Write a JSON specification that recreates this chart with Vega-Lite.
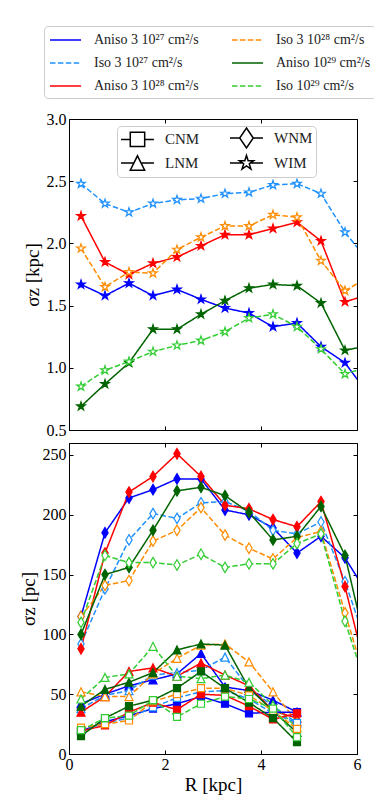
{
"$schema": "https://vega.github.io/schema/vega-lite/v6.json",
"padding": {"left": 18, "top": 25, "right": 0, "bottom": 5},
"spacing": 3,
"datasets": {
"phases": [{"ph":"CNM"},{"ph":"LNM"},{"ph":"WNM"},{"ph":"WIM"}],
"top": [
{"R":0.25,"s":1.67,"run":"A27","ph":"WIM"},{"R":0.75,"s":1.58,"run":"A27","ph":"WIM"},{"R":1.25,"s":1.68,"run":"A27","ph":"WIM"},{"R":1.75,"s":1.58,"run":"A27","ph":"WIM"},{"R":2.25,"s":1.63,"run":"A27","ph":"WIM"},{"R":2.75,"s":1.55,"run":"A27","ph":"WIM"},{"R":3.25,"s":1.48,"run":"A27","ph":"WIM"},{"R":3.75,"s":1.44,"run":"A27","ph":"WIM"},{"R":4.25,"s":1.33,"run":"A27","ph":"WIM"},{"R":4.75,"s":1.36,"run":"A27","ph":"WIM"},{"R":5.25,"s":1.17,"run":"A27","ph":"WIM"},{"R":5.75,"s":1.04,"run":"A27","ph":"WIM"},{"R":6.25,"s":0.78,"run":"A27","ph":"WIM"},
{"R":0.25,"s":2.48,"run":"I27","ph":"WIM"},{"R":0.75,"s":2.32,"run":"I27","ph":"WIM"},{"R":1.25,"s":2.25,"run":"I27","ph":"WIM"},{"R":1.75,"s":2.32,"run":"I27","ph":"WIM"},{"R":2.25,"s":2.35,"run":"I27","ph":"WIM"},{"R":2.75,"s":2.36,"run":"I27","ph":"WIM"},{"R":3.25,"s":2.40,"run":"I27","ph":"WIM"},{"R":3.75,"s":2.41,"run":"I27","ph":"WIM"},{"R":4.25,"s":2.47,"run":"I27","ph":"WIM"},{"R":4.75,"s":2.48,"run":"I27","ph":"WIM"},{"R":5.25,"s":2.40,"run":"I27","ph":"WIM"},{"R":5.75,"s":2.09,"run":"I27","ph":"WIM"},{"R":6.25,"s":1.85,"run":"I27","ph":"WIM"},
{"R":0.25,"s":2.22,"run":"A28","ph":"WIM"},{"R":0.75,"s":1.85,"run":"A28","ph":"WIM"},{"R":1.25,"s":1.75,"run":"A28","ph":"WIM"},{"R":1.75,"s":1.84,"run":"A28","ph":"WIM"},{"R":2.25,"s":1.89,"run":"A28","ph":"WIM"},{"R":2.75,"s":1.98,"run":"A28","ph":"WIM"},{"R":3.25,"s":2.07,"run":"A28","ph":"WIM"},{"R":3.75,"s":2.07,"run":"A28","ph":"WIM"},{"R":4.25,"s":2.12,"run":"A28","ph":"WIM"},{"R":4.75,"s":2.17,"run":"A28","ph":"WIM"},{"R":5.25,"s":2.02,"run":"A28","ph":"WIM"},{"R":5.75,"s":1.53,"run":"A28","ph":"WIM"},{"R":6.25,"s":1.59,"run":"A28","ph":"WIM"},
{"R":0.25,"s":1.96,"run":"I28","ph":"WIM"},{"R":0.75,"s":1.65,"run":"I28","ph":"WIM"},{"R":1.25,"s":1.77,"run":"I28","ph":"WIM"},{"R":1.75,"s":1.76,"run":"I28","ph":"WIM"},{"R":2.25,"s":1.95,"run":"I28","ph":"WIM"},{"R":2.75,"s":2.05,"run":"I28","ph":"WIM"},{"R":3.25,"s":2.14,"run":"I28","ph":"WIM"},{"R":3.75,"s":2.14,"run":"I28","ph":"WIM"},{"R":4.25,"s":2.23,"run":"I28","ph":"WIM"},{"R":4.75,"s":2.21,"run":"I28","ph":"WIM"},{"R":5.25,"s":1.86,"run":"I28","ph":"WIM"},{"R":5.75,"s":1.62,"run":"I28","ph":"WIM"},{"R":6.25,"s":1.73,"run":"I28","ph":"WIM"},
{"R":0.25,"s":0.69,"run":"A29","ph":"WIM"},{"R":0.75,"s":0.87,"run":"A29","ph":"WIM"},{"R":1.25,"s":1.04,"run":"A29","ph":"WIM"},{"R":1.75,"s":1.31,"run":"A29","ph":"WIM"},{"R":2.25,"s":1.31,"run":"A29","ph":"WIM"},{"R":2.75,"s":1.43,"run":"A29","ph":"WIM"},{"R":3.25,"s":1.54,"run":"A29","ph":"WIM"},{"R":3.75,"s":1.64,"run":"A29","ph":"WIM"},{"R":4.25,"s":1.67,"run":"A29","ph":"WIM"},{"R":4.75,"s":1.66,"run":"A29","ph":"WIM"},{"R":5.25,"s":1.52,"run":"A29","ph":"WIM"},{"R":5.75,"s":1.14,"run":"A29","ph":"WIM"},{"R":6.25,"s":1.18,"run":"A29","ph":"WIM"},
{"R":0.25,"s":0.85,"run":"I29","ph":"WIM"},{"R":0.75,"s":0.98,"run":"I29","ph":"WIM"},{"R":1.25,"s":1.05,"run":"I29","ph":"WIM"},{"R":1.75,"s":1.13,"run":"I29","ph":"WIM"},{"R":2.25,"s":1.18,"run":"I29","ph":"WIM"},{"R":2.75,"s":1.22,"run":"I29","ph":"WIM"},{"R":3.25,"s":1.29,"run":"I29","ph":"WIM"},{"R":3.75,"s":1.40,"run":"I29","ph":"WIM"},{"R":4.25,"s":1.43,"run":"I29","ph":"WIM"},{"R":4.75,"s":1.33,"run":"I29","ph":"WIM"},{"R":5.25,"s":1.15,"run":"I29","ph":"WIM"},{"R":5.75,"s":0.95,"run":"I29","ph":"WIM"},{"R":6.25,"s":1.01,"run":"I29","ph":"WIM"}
],
"bot": [
{"R":0.25,"s":115,"run":"A27","ph":"WNM"},{"R":0.75,"s":185,"run":"A27","ph":"WNM"},{"R":1.25,"s":214,"run":"A27","ph":"WNM"},{"R":1.75,"s":221,"run":"A27","ph":"WNM"},{"R":2.25,"s":230,"run":"A27","ph":"WNM"},{"R":2.75,"s":230,"run":"A27","ph":"WNM"},{"R":3.25,"s":204,"run":"A27","ph":"WNM"},{"R":3.75,"s":200,"run":"A27","ph":"WNM"},{"R":4.25,"s":189,"run":"A27","ph":"WNM"},{"R":4.75,"s":168,"run":"A27","ph":"WNM"},{"R":5.25,"s":182,"run":"A27","ph":"WNM"},{"R":5.75,"s":164,"run":"A27","ph":"WNM"},{"R":6.25,"s":132,"run":"A27","ph":"WNM"},
{"R":0.25,"s":92,"run":"I27","ph":"WNM"},{"R":0.75,"s":138,"run":"I27","ph":"WNM"},{"R":1.25,"s":179,"run":"I27","ph":"WNM"},{"R":1.75,"s":201,"run":"I27","ph":"WNM"},{"R":2.25,"s":197,"run":"I27","ph":"WNM"},{"R":2.75,"s":210,"run":"I27","ph":"WNM"},{"R":3.25,"s":211,"run":"I27","ph":"WNM"},{"R":3.75,"s":203,"run":"I27","ph":"WNM"},{"R":4.25,"s":187,"run":"I27","ph":"WNM"},{"R":4.75,"s":184,"run":"I27","ph":"WNM"},{"R":5.25,"s":194,"run":"I27","ph":"WNM"},{"R":5.75,"s":144,"run":"I27","ph":"WNM"},{"R":6.25,"s":86,"run":"I27","ph":"WNM"},
{"R":0.25,"s":88,"run":"A28","ph":"WNM"},{"R":0.75,"s":168,"run":"A28","ph":"WNM"},{"R":1.25,"s":219,"run":"A28","ph":"WNM"},{"R":1.75,"s":232,"run":"A28","ph":"WNM"},{"R":2.25,"s":251,"run":"A28","ph":"WNM"},{"R":2.75,"s":232,"run":"A28","ph":"WNM"},{"R":3.25,"s":208,"run":"A28","ph":"WNM"},{"R":3.75,"s":205,"run":"A28","ph":"WNM"},{"R":4.25,"s":196,"run":"A28","ph":"WNM"},{"R":4.75,"s":190,"run":"A28","ph":"WNM"},{"R":5.25,"s":211,"run":"A28","ph":"WNM"},{"R":5.75,"s":140,"run":"A28","ph":"WNM"},{"R":6.25,"s":59,"run":"A28","ph":"WNM"},
{"R":0.25,"s":115,"run":"I28","ph":"WNM"},{"R":0.75,"s":141,"run":"I28","ph":"WNM"},{"R":1.25,"s":145,"run":"I28","ph":"WNM"},{"R":1.75,"s":178,"run":"I28","ph":"WNM"},{"R":2.25,"s":187,"run":"I28","ph":"WNM"},{"R":2.75,"s":206,"run":"I28","ph":"WNM"},{"R":3.25,"s":183,"run":"I28","ph":"WNM"},{"R":3.75,"s":172,"run":"I28","ph":"WNM"},{"R":4.25,"s":163,"run":"I28","ph":"WNM"},{"R":4.75,"s":181,"run":"I28","ph":"WNM"},{"R":5.25,"s":186,"run":"I28","ph":"WNM"},{"R":5.75,"s":118,"run":"I28","ph":"WNM"},{"R":6.25,"s":52,"run":"I28","ph":"WNM"},
{"R":0.25,"s":100,"run":"A29","ph":"WNM"},{"R":0.75,"s":150,"run":"A29","ph":"WNM"},{"R":1.25,"s":156,"run":"A29","ph":"WNM"},{"R":1.75,"s":187,"run":"A29","ph":"WNM"},{"R":2.25,"s":220,"run":"A29","ph":"WNM"},{"R":2.75,"s":223,"run":"A29","ph":"WNM"},{"R":3.25,"s":216,"run":"A29","ph":"WNM"},{"R":3.75,"s":202,"run":"A29","ph":"WNM"},{"R":4.25,"s":179,"run":"A29","ph":"WNM"},{"R":4.75,"s":182,"run":"A29","ph":"WNM"},{"R":5.25,"s":207,"run":"A29","ph":"WNM"},{"R":5.75,"s":166,"run":"A29","ph":"WNM"},{"R":6.25,"s":80,"run":"A29","ph":"WNM"},
{"R":0.25,"s":110,"run":"I29","ph":"WNM"},{"R":0.75,"s":166,"run":"I29","ph":"WNM"},{"R":1.25,"s":160,"run":"I29","ph":"WNM"},{"R":1.75,"s":160,"run":"I29","ph":"WNM"},{"R":2.25,"s":158,"run":"I29","ph":"WNM"},{"R":2.75,"s":167,"run":"I29","ph":"WNM"},{"R":3.25,"s":156,"run":"I29","ph":"WNM"},{"R":3.75,"s":159,"run":"I29","ph":"WNM"},{"R":4.25,"s":159,"run":"I29","ph":"WNM"},{"R":4.75,"s":176,"run":"I29","ph":"WNM"},{"R":5.25,"s":184,"run":"I29","ph":"WNM"},{"R":5.75,"s":111,"run":"I29","ph":"WNM"},{"R":6.25,"s":49,"run":"I29","ph":"WNM"},
{"R":0.25,"s":42,"run":"A27","ph":"LNM"},{"R":0.75,"s":50,"run":"A27","ph":"LNM"},{"R":1.25,"s":57,"run":"A27","ph":"LNM"},{"R":1.75,"s":62,"run":"A27","ph":"LNM"},{"R":2.25,"s":67,"run":"A27","ph":"LNM"},{"R":2.75,"s":84,"run":"A27","ph":"LNM"},{"R":3.25,"s":56,"run":"A27","ph":"LNM"},{"R":3.75,"s":53,"run":"A27","ph":"LNM"},{"R":4.25,"s":45,"run":"A27","ph":"LNM"},{"R":4.75,"s":35,"run":"A27","ph":"LNM"},
{"R":0.25,"s":38,"run":"I27","ph":"LNM"},{"R":0.75,"s":49,"run":"I27","ph":"LNM"},{"R":1.25,"s":53,"run":"I27","ph":"LNM"},{"R":1.75,"s":66,"run":"I27","ph":"LNM"},{"R":2.25,"s":68,"run":"I27","ph":"LNM"},{"R":2.75,"s":70,"run":"I27","ph":"LNM"},{"R":3.25,"s":81,"run":"I27","ph":"LNM"},{"R":3.75,"s":55,"run":"I27","ph":"LNM"},{"R":4.25,"s":40,"run":"I27","ph":"LNM"},{"R":4.75,"s":26,"run":"I27","ph":"LNM"},
{"R":0.25,"s":35,"run":"A28","ph":"LNM"},{"R":0.75,"s":48,"run":"A28","ph":"LNM"},{"R":1.25,"s":69,"run":"A28","ph":"LNM"},{"R":1.75,"s":72,"run":"A28","ph":"LNM"},{"R":2.25,"s":65,"run":"A28","ph":"LNM"},{"R":2.75,"s":76,"run":"A28","ph":"LNM"},{"R":3.25,"s":66,"run":"A28","ph":"LNM"},{"R":3.75,"s":57,"run":"A28","ph":"LNM"},{"R":4.25,"s":36,"run":"A28","ph":"LNM"},{"R":4.75,"s":30,"run":"A28","ph":"LNM"},
{"R":0.25,"s":52,"run":"I28","ph":"LNM"},{"R":0.75,"s":48,"run":"I28","ph":"LNM"},{"R":1.25,"s":48,"run":"I28","ph":"LNM"},{"R":1.75,"s":67,"run":"I28","ph":"LNM"},{"R":2.25,"s":80,"run":"I28","ph":"LNM"},{"R":2.75,"s":91,"run":"I28","ph":"LNM"},{"R":3.25,"s":92,"run":"I28","ph":"LNM"},{"R":3.75,"s":77,"run":"I28","ph":"LNM"},{"R":4.25,"s":52,"run":"I28","ph":"LNM"},{"R":4.75,"s":27,"run":"I28","ph":"LNM"},
{"R":0.25,"s":40,"run":"A29","ph":"LNM"},{"R":0.75,"s":54,"run":"A29","ph":"LNM"},{"R":1.25,"s":60,"run":"A29","ph":"LNM"},{"R":1.75,"s":68,"run":"A29","ph":"LNM"},{"R":2.25,"s":87,"run":"A29","ph":"LNM"},{"R":2.75,"s":92,"run":"A29","ph":"LNM"},{"R":3.25,"s":91,"run":"A29","ph":"LNM"},{"R":3.75,"s":55,"run":"A29","ph":"LNM"},{"R":4.25,"s":36,"run":"A29","ph":"LNM"},{"R":4.75,"s":18,"run":"A29","ph":"LNM"},
{"R":0.25,"s":46,"run":"I29","ph":"LNM"},{"R":0.75,"s":64,"run":"I29","ph":"LNM"},{"R":1.25,"s":67,"run":"I29","ph":"LNM"},{"R":1.75,"s":90,"run":"I29","ph":"LNM"},{"R":2.25,"s":65,"run":"I29","ph":"LNM"},{"R":2.75,"s":63,"run":"I29","ph":"LNM"},{"R":3.25,"s":66,"run":"I29","ph":"LNM"},{"R":3.75,"s":60,"run":"I29","ph":"LNM"},{"R":4.25,"s":41,"run":"I29","ph":"LNM"},{"R":4.75,"s":22,"run":"I29","ph":"LNM"},
{"R":0.25,"s":19,"run":"A27","ph":"CNM"},{"R":0.75,"s":27,"run":"A27","ph":"CNM"},{"R":1.25,"s":32,"run":"A27","ph":"CNM"},{"R":1.75,"s":38,"run":"A27","ph":"CNM"},{"R":2.25,"s":42,"run":"A27","ph":"CNM"},{"R":2.75,"s":48,"run":"A27","ph":"CNM"},{"R":3.25,"s":42,"run":"A27","ph":"CNM"},{"R":3.75,"s":34,"run":"A27","ph":"CNM"},{"R":4.25,"s":35,"run":"A27","ph":"CNM"},{"R":4.75,"s":35,"run":"A27","ph":"CNM"},
{"R":0.25,"s":19,"run":"I27","ph":"CNM"},{"R":0.75,"s":26,"run":"I27","ph":"CNM"},{"R":1.25,"s":30,"run":"I27","ph":"CNM"},{"R":1.75,"s":39,"run":"I27","ph":"CNM"},{"R":2.25,"s":47,"run":"I27","ph":"CNM"},{"R":2.75,"s":52,"run":"I27","ph":"CNM"},{"R":3.25,"s":53,"run":"I27","ph":"CNM"},{"R":3.75,"s":46,"run":"I27","ph":"CNM"},{"R":4.25,"s":34,"run":"I27","ph":"CNM"},{"R":4.75,"s":26,"run":"I27","ph":"CNM"},
{"R":0.25,"s":19,"run":"A28","ph":"CNM"},{"R":0.75,"s":24,"run":"A28","ph":"CNM"},{"R":1.25,"s":35,"run":"A28","ph":"CNM"},{"R":1.75,"s":43,"run":"A28","ph":"CNM"},{"R":2.25,"s":37,"run":"A28","ph":"CNM"},{"R":2.75,"s":50,"run":"A28","ph":"CNM"},{"R":3.25,"s":49,"run":"A28","ph":"CNM"},{"R":3.75,"s":40,"run":"A28","ph":"CNM"},{"R":4.25,"s":29,"run":"A28","ph":"CNM"},{"R":4.75,"s":34,"run":"A28","ph":"CNM"},
{"R":0.25,"s":22,"run":"I28","ph":"CNM"},{"R":0.75,"s":25,"run":"I28","ph":"CNM"},{"R":1.25,"s":28,"run":"I28","ph":"CNM"},{"R":1.75,"s":44,"run":"I28","ph":"CNM"},{"R":2.25,"s":50,"run":"I28","ph":"CNM"},{"R":2.75,"s":55,"run":"I28","ph":"CNM"},{"R":3.25,"s":55,"run":"I28","ph":"CNM"},{"R":3.75,"s":49,"run":"I28","ph":"CNM"},{"R":4.25,"s":36,"run":"I28","ph":"CNM"},{"R":4.75,"s":21,"run":"I28","ph":"CNM"},
{"R":0.25,"s":15,"run":"A29","ph":"CNM"},{"R":0.75,"s":30,"run":"A29","ph":"CNM"},{"R":1.25,"s":40,"run":"A29","ph":"CNM"},{"R":1.75,"s":45,"run":"A29","ph":"CNM"},{"R":2.25,"s":55,"run":"A29","ph":"CNM"},{"R":2.75,"s":69,"run":"A29","ph":"CNM"},{"R":3.25,"s":55,"run":"A29","ph":"CNM"},{"R":3.75,"s":43,"run":"A29","ph":"CNM"},{"R":4.25,"s":30,"run":"A29","ph":"CNM"},{"R":4.75,"s":10,"run":"A29","ph":"CNM"},
{"R":0.25,"s":20,"run":"I29","ph":"CNM"},{"R":0.75,"s":30,"run":"I29","ph":"CNM"},{"R":1.25,"s":32,"run":"I29","ph":"CNM"},{"R":1.75,"s":45,"run":"I29","ph":"CNM"},{"R":2.25,"s":31,"run":"I29","ph":"CNM"},{"R":2.75,"s":42,"run":"I29","ph":"CNM"},{"R":3.25,"s":48,"run":"I29","ph":"CNM"},{"R":3.75,"s":46,"run":"I29","ph":"CNM"},{"R":4.25,"s":38,"run":"I29","ph":"CNM"},{"R":4.75,"s":14,"run":"I29","ph":"CNM"}
]
},
"resolve": {"scale": {"shape": "independent"}, "legend": {"shape": "independent"}},
"vconcat": [
{
"width": 288, "height": 311,
"data": {"name": "top"},
"resolve": {"scale": {"shape": "independent"}, "axis": {"x": "independent", "y": "independent"}, "legend": {"shape": "independent"}},
"layer": [
{"mark": {"type": "line", "clip": true, "strokeWidth": 1.5},
"encoding": {
"x": {"field": "R", "type": "quantitative", "scale": {"domain": [0, 6], "nice": false}, "axis": {"orient": "bottom", "values": [0, 2, 4, 6], "labels": false, "title": null}},
"y": {"field": "s", "type": "quantitative", "scale": {"domain": [0.5, 3], "nice": false, "zero": false}, "axis": {"orient": "left", "values": [0.5, 1, 1.5, 2, 2.5, 3], "format": ".1f", "title": "σz [kpc]"}},
"stroke": {"field": "run", "type": "nominal", "scale": {"domain": ["A27","I27","A28","I28","A29","I29"], "range": ["#0000ff","#1e90ff","#ff0000","#ff8c00","#006400","#32cd32"]},
"legend": {"orient": "none", "legendX": -25, "legendY": -93, "title": null, "columns": 2, "symbolType": "M-1,0H2.88", "symbolSize": 256, "symbolStrokeWidth": 1.5, "labelFont": "Liberation Serif", "labelFontSize": 14, "labelColor": "#222222", "labelOffset": 27, "rowPadding": 7, "columnPadding": 30, "padding": 5, "strokeColor": "#cccccc", "fillColor": "white", "cornerRadius": 4,
"labelExpr": "datum.label=='A27'?'Aniso 3 10²⁷ cm²/s':datum.label=='I27'?'Iso 3 10²⁷ cm²/s':datum.label=='A28'?'Aniso 3 10²⁸ cm²/s':datum.label=='I28'?'Iso 3 10²⁸ cm²/s':datum.label=='A29'?'Aniso 10²⁹ cm²/s':'Iso 10²⁹ cm²/s'"}},
"strokeDash": {"field": "run", "type": "nominal", "scale": {"domain": ["A27","I27","A28","I28","A29","I29"], "range": [[1,0],[5.5,2.4],[1,0],[5.5,2.4],[1,0],[5.5,2.4]]},
"legend": {"orient": "none", "legendX": -25, "legendY": -93, "title": null, "columns": 2, "symbolType": "M-1,0H2.88", "symbolSize": 256, "symbolStrokeWidth": 1.5, "labelFont": "Liberation Serif", "labelFontSize": 14, "labelColor": "#222222", "labelOffset": 27, "rowPadding": 7, "columnPadding": 30, "padding": 5, "strokeColor": "#cccccc", "fillColor": "white", "cornerRadius": 4,
"labelExpr": "datum.label=='A27'?'Aniso 3 10²⁷ cm²/s':datum.label=='I27'?'Iso 3 10²⁷ cm²/s':datum.label=='A28'?'Aniso 3 10²⁸ cm²/s':datum.label=='I28'?'Iso 3 10²⁸ cm²/s':datum.label=='A29'?'Aniso 10²⁹ cm²/s':'Iso 10²⁹ cm²/s'"}}
}},
{"mark": {"type": "point", "clip": true, "filled": true, "size": 100, "strokeWidth": 1.2, "opacity": 1},
"encoding": {
"x": {"field": "R", "type": "quantitative", "axis": {"orient": "top", "values": [0, 2, 4, 6], "labels": false, "title": null, "domain": false}},
"y": {"field": "s", "type": "quantitative", "axis": {"orient": "right", "values": [0.5, 1, 1.5, 2, 2.5, 3], "labels": false, "title": null, "domain": false}},
"stroke": {"field": "run", "type": "nominal", "legend": null},
"fill": {"field": "run", "type": "nominal", "scale": {"domain": ["A27","I27","A28","I28","A29","I29"], "range": ["#0000ff","white","#ff0000","white","#006400","white"]}, "legend": null},
"shape": {"field": "ph", "type": "nominal", "scale": {"domain": ["CNM","LNM","WNM","WIM"], "range": ["M-0.7,-0.7H0.7V0.7H-0.7Z","M0,-0.8L0.8,0.8L-0.8,0.8Z","M0,-1.05L0.63,0L0,1.05L-0.63,0Z","M0,-0.9L0.202,-0.278L0.856,-0.278L0.327,0.106L0.529,0.728L0,0.344L-0.529,0.728L-0.327,0.106L-0.856,-0.278L-0.202,-0.278Z"]}, "legend": null}
}},
{"data": {"name": "phases"},
"transform": [{"filter": "datum.ph == 'none'"}],
"mark": {"type": "point", "filled": false, "color": "black", "strokeWidth": 1.5},
"encoding": {
"shape": {"field": "ph", "type": "nominal", "scale": {"domain": ["CNM","LNM","WNM","WIM"], "range": [
"M-1,0H0.16M1.96,0H3.12M0.16,-0.9H1.96V0.9H0.16Z",
"M-1,0H0.61M1.51,0H3.12M1.06,-0.9L1.96,0.9L0.16,0.9Z",
"M-1,0H0.21M1.91,0H3.12M1.06,-1.25L1.91,0L1.06,1.25L0.21,0Z",
"M-1,0H0.46M1.66,0H3.12M1.06,-0.95L1.27,-0.29L1.96,-0.29L1.41,0.11L1.62,0.77L1.06,0.36L0.5,0.77L0.71,0.11L0.16,-0.29L0.85,-0.29Z"]},
"legend": {"orient": "none", "legendX": 48, "legendY": 7, "title": null, "columns": 2, "symbolSize": 256, "symbolStrokeWidth": 1.5, "symbolStrokeColor": "black", "symbolOpacity": 1, "labelFont": "Liberation Serif", "labelFontSize": 15, "labelColor": "#222222", "labelOffset": 27, "rowPadding": 1, "columnPadding": 27, "padding": 3, "strokeColor": "#cccccc", "fillColor": "white", "cornerRadius": 4}}
}}
]
},
{
"width": 288, "height": 311,
"data": {"name": "bot"},
"resolve": {"axis": {"x": "independent", "y": "independent"}},
"layer": [
{"mark": {"type": "line", "clip": true, "strokeWidth": 1.5},
"encoding": {
"x": {"field": "R", "type": "quantitative", "scale": {"domain": [0, 6], "nice": false}, "axis": {"orient": "bottom", "values": [0, 2, 4, 6], "title": "R [kpc]", "labelPadding": 6, "titlePadding": 3}},
"y": {"field": "s", "type": "quantitative", "scale": {"domain": [0, 260], "nice": false}, "axis": {"orient": "left", "values": [0, 50, 100, 150, 200, 250], "title": "σz [pc]"}},
"stroke": {"field": "run", "type": "nominal", "legend": null},
"strokeDash": {"field": "run", "type": "nominal", "legend": null},
"detail": {"field": "ph", "type": "nominal"}
}},
{"mark": {"type": "point", "clip": true, "filled": true, "size": 100, "strokeWidth": 1.2, "opacity": 1},
"encoding": {
"x": {"field": "R", "type": "quantitative", "axis": {"orient": "top", "values": [0, 2, 4, 6], "labels": false, "title": null, "domain": false}},
"y": {"field": "s", "type": "quantitative", "axis": {"orient": "right", "values": [0, 50, 100, 150, 200, 250], "labels": false, "title": null, "domain": false}},
"stroke": {"field": "run", "type": "nominal", "legend": null},
"fill": {"field": "run", "type": "nominal", "legend": null},
"shape": {"field": "ph", "type": "nominal", "scale": {"domain": ["CNM","LNM","WNM","WIM"], "range": ["M-0.7,-0.7H0.7V0.7H-0.7Z","M0,-0.8L0.8,0.8L-0.8,0.8Z","M0,-1.05L0.63,0L0,1.05L-0.63,0Z","M0,-0.9L0.202,-0.278L0.856,-0.278L0.327,0.106L0.529,0.728L0,0.344L-0.529,0.728L-0.327,0.106L-0.856,-0.278L-0.202,-0.278Z"]}, "legend": null}
}}
]
}
],
"config": {
"font": "Liberation Serif",
"view": {"stroke": "black", "strokeWidth": 1},
"axis": {"grid": false, "labelFont": "Liberation Serif", "titleFont": "Liberation Serif", "labelFontSize": 16, "titleFontSize": 19, "titleFontWeight": "normal", "labelColor": "black", "titleColor": "black", "tickColor": "black", "domainColor": "black", "tickSize": -4, "labelPadding": 7, "labelFlush": false, "titlePadding": 4}
}
}
